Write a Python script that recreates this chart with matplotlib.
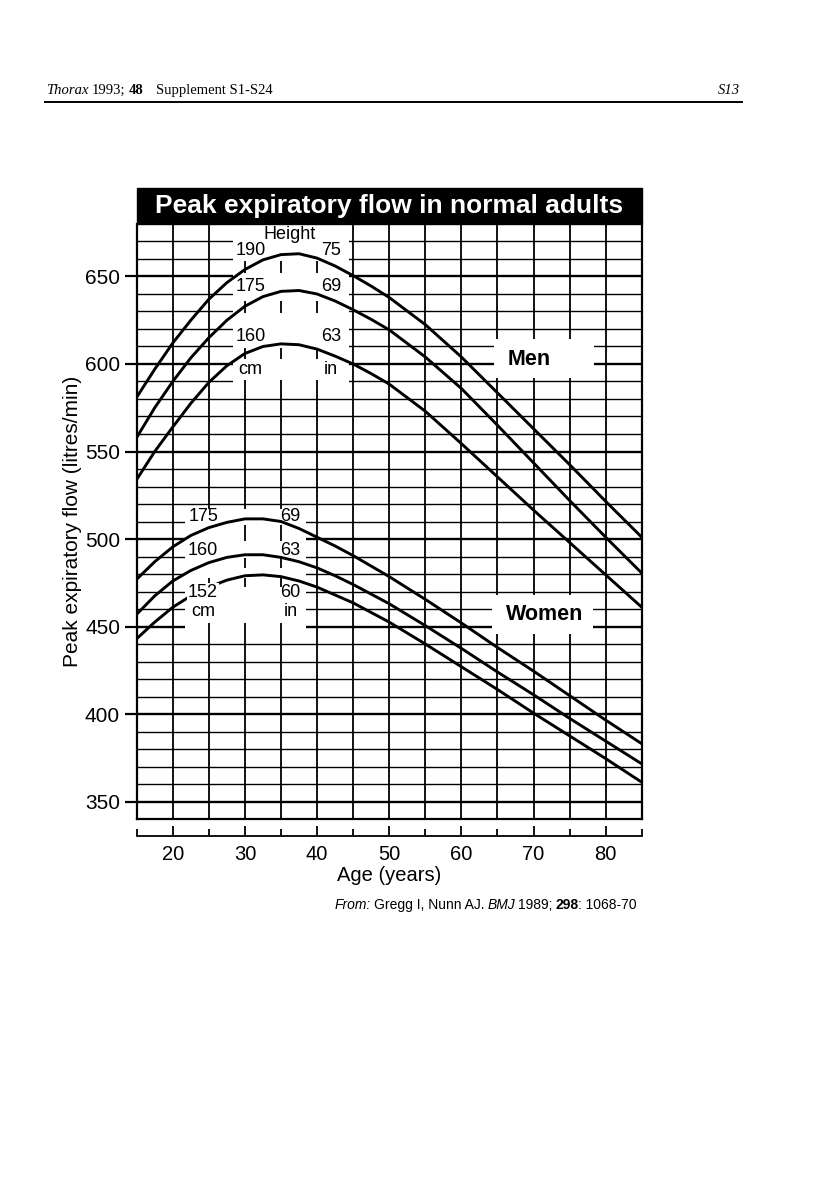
import matplotlib
matplotlib.use('Agg')
import matplotlib.pyplot as plt
from matplotlib.patches import Rectangle

plt.rcParams['font.family'] = ['Liberation Sans', 'DejaVu Sans']

W, H = 816, 1203

# data
ages = [15, 17.5, 20, 22.5, 25, 27.5, 30, 32.5, 35, 37.5, 40, 42.5, 45, 47.5, 50,
        55, 60, 65, 70, 75, 80, 85]

men_190 = [581, 597, 612, 625, 637, 646.5, 654, 659.5, 662.5, 663, 660.5, 656, 650.5, 644.5, 638,
           622.5, 604, 583.5, 563, 542.5, 521.5, 501]
men_175 = [558, 575, 590, 603.5, 615, 625, 633, 638.5, 641.5, 642, 640, 636, 631, 625.5, 619.5,
           604, 586, 565, 543.5, 522, 501, 480.5]
men_160 = [534, 550, 564, 577.5, 589.5, 599, 606, 610, 611.5, 611, 608.5, 604.5, 600, 594.5, 588.5,
           573, 554.5, 535.5, 516.5, 498, 479.5, 461]

women_175 = [477, 487, 495.5, 502, 506.5, 509.5, 511.5, 511.5, 510, 506, 501, 496, 490.5, 484.5, 478.5,
             465.5, 452, 438, 424.5, 410.5, 396.5, 383]
women_160 = [457, 467.5, 476, 482, 486.5, 489.5, 491, 491, 489.5, 487, 483.5, 479, 474, 468.5, 463,
             450.5, 437.5, 424, 411, 397.5, 384.5, 371.5]
women_152 = [443, 452.5, 461, 467.5, 472.5, 476.5, 479, 479.5, 478.5, 476, 472.5, 468, 463.5, 458, 452.5,
             440, 427, 414, 400.5, 387.5, 374.5, 361]

men_cm = ['190', '175', '160', 'cm']
men_in = ['75', '69', '63', 'in']
women_cm = ['175', '160', '152', 'cm']
women_in = ['69', '63', '60', 'in']

x_major = [20, 30, 40, 50, 60, 70, 80]
x_minor = [15, 25, 35, 45, 55, 65, 75, 85]
y_major = [350, 400, 450, 500, 550, 600, 650]

fig = plt.figure(figsize=(W / 100, H / 100), dpi=100)
ax = fig.add_axes([0.1675, 0.3192, 0.619, 0.4946])
ax.set_xlim(15, 85)
ax.set_ylim(340, 680)

# grid
for v in range(350, 680, 10):
    ax.axhline(v, color='black', lw=1.7 if v % 50 == 0 else 1.0, zorder=1)
for a in range(20, 85, 5):
    ax.axvline(a, color='black', lw=1.3, zorder=1)
ax.axhline(340, color='black', lw=1.6, clip_on=False, zorder=1)

# white label areas
ax.add_patch(Rectangle((28.4, 585), 16, 95, fc='white', ec='none', zorder=1.5))
ax.add_patch(Rectangle((21.7, 446), 16.7, 71, fc='white', ec='none', zorder=1.5))
ax.add_patch(Rectangle((64.5, 592), 13.9, 22, fc='white', ec='none', zorder=1.5))
ax.add_patch(Rectangle((64.3, 446), 14.0, 22, fc='white', ec='none', zorder=1.5))

# short marks inside label areas
for a in [30, 35, 40]:
    for lo, hi in [(652, 659), (629, 636), (603, 609), (585, 591)]:
        ax.vlines(a, lo, hi, color='black', lw=1.3, zorder=1.6)
for a in [30, 35]:
    for lo, hi in [(499, 508), (483.5, 489), (472.5, 478)]:
        ax.vlines(a, lo, hi, color='black', lw=1.3, zorder=1.6)
for a in [25, 30, 35]:
    ax.vlines(a, 446, 452, color='black', lw=1.3, zorder=1.6)
ax.vlines(25, 472.5, 478, color='black', lw=1.3, zorder=1.6)

# curves
for ys in [men_190, men_175, men_160, women_175, women_160, women_152]:
    ax.plot(ages, ys, color='black', lw=2.1, solid_capstyle='butt', zorder=3)

# height labels
lab = dict(ha='center', va='center', size=13, zorder=4)
ax.text(36.2, 674.2, 'Height', **lab)
for s_cm, s_in, v in zip(men_cm, men_in, [664.6, 644.3, 615.7, 596.6]):
    ax.text(30.8, v, s_cm, **lab)
    ax.text(41.9, v, s_in, **lab)
for s_cm, s_in, v in zip(women_cm, women_in, [513.1, 493.5, 469.5, 458.5]):
    # the 152 label sits on its own curve and hides it
    box = dict(fc='white', ec='none', pad=0.5) if s_cm == '152' else None
    ax.text(24.2, v, s_cm, bbox=box, **lab)
    ax.text(36.3, v, s_in, **lab)

ax.text(66.4, 602.6, 'Men', ha='left', va='center', size=15.5, weight='bold', zorder=4)
ax.text(66.2, 456.6, 'Women', ha='left', va='center', size=15.5, weight='bold', zorder=4)

# title bar
ax.add_patch(Rectangle((15, 680), 70, 20.8, fc='black', ec='black', clip_on=False, zorder=5))
ax.text(50, 690.4, 'Peak expiratory flow in normal adults', color='white', ha='center',
        va='center', size=19, weight='bold', zorder=6, clip_on=False)

# axes
ax.spines['top'].set_visible(False)
for s in ['left', 'right']:
    ax.spines[s].set_linewidth(1.6)
ax.spines['bottom'].set_position(('outward', 12.5))
ax.spines['bottom'].set_linewidth(1.3)
ax.set_xticks(x_major)
ax.set_xticks(x_minor, minor=True)
ax.tick_params(axis='x', which='major', direction='in', length=7.5, width=1.3, labelsize=14.5, pad=6)
ax.tick_params(axis='x', which='minor', direction='in', length=5, width=1.3)
ax.set_yticks(y_major)
ax.tick_params(axis='y', which='major', direction='out', length=9, width=1.6, labelsize=15, pad=3)
ax.set_xlabel('Age (years)', size=14.5, labelpad=2)
ax.set_ylabel('Peak expiratory flow (litres/min)', size=15, labelpad=2)


def text_runs(parts, x, y, ha='left', size=10, family='Liberation Serif'):
    r = fig.canvas.get_renderer()
    objs = []
    for s, style, gap in parts:
        t = fig.text(0, 1 - y / H, s, size=size, family=family, va='baseline', **style)
        objs.append((t, gap))
    widths = [t.get_window_extent(r).width + g for t, g in objs]
    start = x - sum(widths) if ha == 'right' else x
    for (t, g), w in zip(objs, widths):
        t.set_x(start / W)
        start += w


# page header
text_runs([('Thorax', {'style': 'italic'}, 3.5), ('1993;', {}, 3.5), ('48', {'weight': 'bold'}, 0)],
          46, 94, size=10.5)
text_runs([('Supplement S1-S24', {}, 0)], 156, 94, size=10.5)
text_runs([('S13', {'style': 'italic'}, 0)], 740, 94, ha='right', size=10.5)
fig.add_artist(plt.Line2D([45 / W, 742 / W], [1 - 102 / H, 1 - 102 / H], color='black', lw=1.4))

# source
text_runs([('From:', {'style': 'italic'}, 3), ('Gregg I, Nunn AJ.', {}, 3), ('BMJ', {'style': 'italic'}, 3),
           ('1989;', {}, 3), ('298', {'weight': 'bold'}, 0), (': 1068-70', {}, 0)],
          637, 909, ha='right', size=10, family='Liberation Sans')

fig.savefig('out.png', dpi=100, facecolor='white')
